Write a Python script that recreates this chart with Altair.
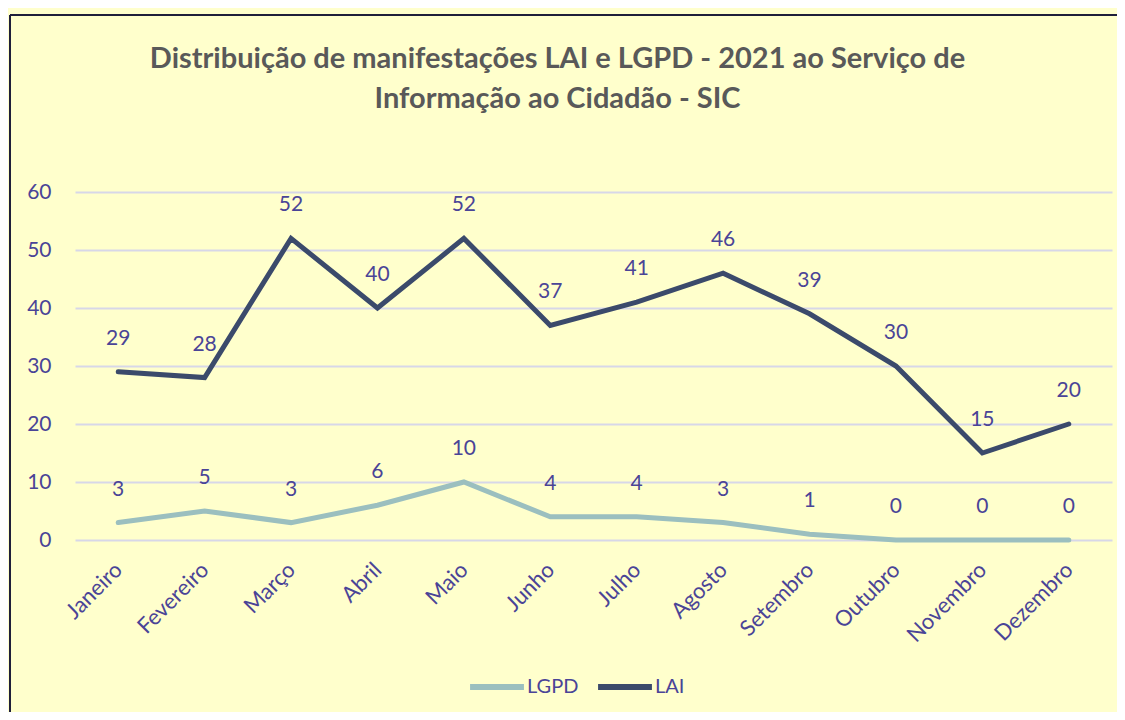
import altair as alt
import pandas as pd

months = ["Janeiro", "Fevereiro", "Março", "Abril", "Maio", "Junho", "Julho",
          "Agosto", "Setembro", "Outubro", "Novembro", "Dezembro"]
lai = [29, 28, 52, 40, 52, 37, 41, 46, 39, 30, 15, 20]
lgpd = [3, 5, 3, 6, 10, 4, 4, 3, 1, 0, 0, 0]
series = ["LGPD", "LAI"]
colors = ["#9BBFBF", "#3B4A6B"]
y_ticks = [0, 10, 20, 30, 40, 50, 60]

rows = []
for m, v in zip(months, lgpd):
    rows.append({"Mês": m, "Série": "LGPD", "Valor": v})
for m, v in zip(months, lai):
    rows.append({"Mês": m, "Série": "LAI", "Valor": v})
df = pd.DataFrame(rows)

FONT = "Lato"
LABEL_COLOR = "#4A4497"

x = alt.X("Mês:N", sort=months, title=None,
          axis=alt.Axis(labelAngle=-45, labelFontSize=22, labelColor=LABEL_COLOR,
                        labelFont=FONT, labelPadding=26, labelAlign="right",
                        labelBaseline="middle", ticks=False, domain=False,
                        grid=False))
y = alt.Y("Valor:Q", title=None, scale=alt.Scale(domain=[0, 60], nice=False),
          axis=alt.Axis(values=y_ticks, labelFontSize=21, labelColor=LABEL_COLOR,
                        labelFont=FONT, labelPadding=24, ticks=False, domain=False,
                        grid=True, gridColor="#D7D7E8", gridWidth=2))
color = alt.Color("Série:N", scale=alt.Scale(domain=series, range=colors),
                  sort=series,
                  legend=alt.Legend(title=None, orient="none", direction="horizontal",
                                    legendX=392, legendY=465,
                                    symbolType="stroke", symbolSize=2900,
                                    symbolStrokeWidth=6, labelFontSize=20,
                                    labelColor=LABEL_COLOR, labelFont=FONT,
                                    labelOffset=0, columnPadding=7))

base = alt.Chart(df)

lines = base.mark_line(strokeWidth=5, strokeCap="round", strokeJoin="miter").encode(
    x=x, y=y, color=color, detail="Série:N"
)

labels = base.mark_text(dy=-33, fontSize=21, color=LABEL_COLOR, font=FONT).encode(
    x=x, y=y, text="Valor:Q", detail="Série:N"
)

frame_df = pd.DataFrame({"k": [0]})
left_edge = alt.Chart(frame_df).mark_rule(stroke="#1F1F3A", strokeWidth=2).encode(
    x=alt.value(-65), y=alt.value(-177), y2=alt.value(900)
)
top_edge = alt.Chart(frame_df).mark_rule(stroke="#1F1F3A", strokeWidth=2).encode(
    x=alt.value(-65), x2=alt.value(1300), y=alt.value(-177)
)

chart = alt.layer(left_edge, top_edge, lines, labels).properties(
    width=1037,
    height=348,
    title=alt.Title(
        ["Distribuição de manifestações LAI e LGPD - 2021 ao Serviço de",
         "Informação ao Cidadão - SIC"],
        fontSize=29, font=FONT, fontWeight="bold", color="#595959",
        anchor="middle", frame="group", dx=-36, offset=-100, lineHeight=40,
    ),
    autosize=alt.AutoSizeParams(type="none"),
    padding={"left": 67, "top": 184, "right": 5, "bottom": 172},
).configure(background="#FFFFCC").configure_view(stroke=None)

chart.save("out.html", embed_options={"renderer": "svg", "actions": False})
